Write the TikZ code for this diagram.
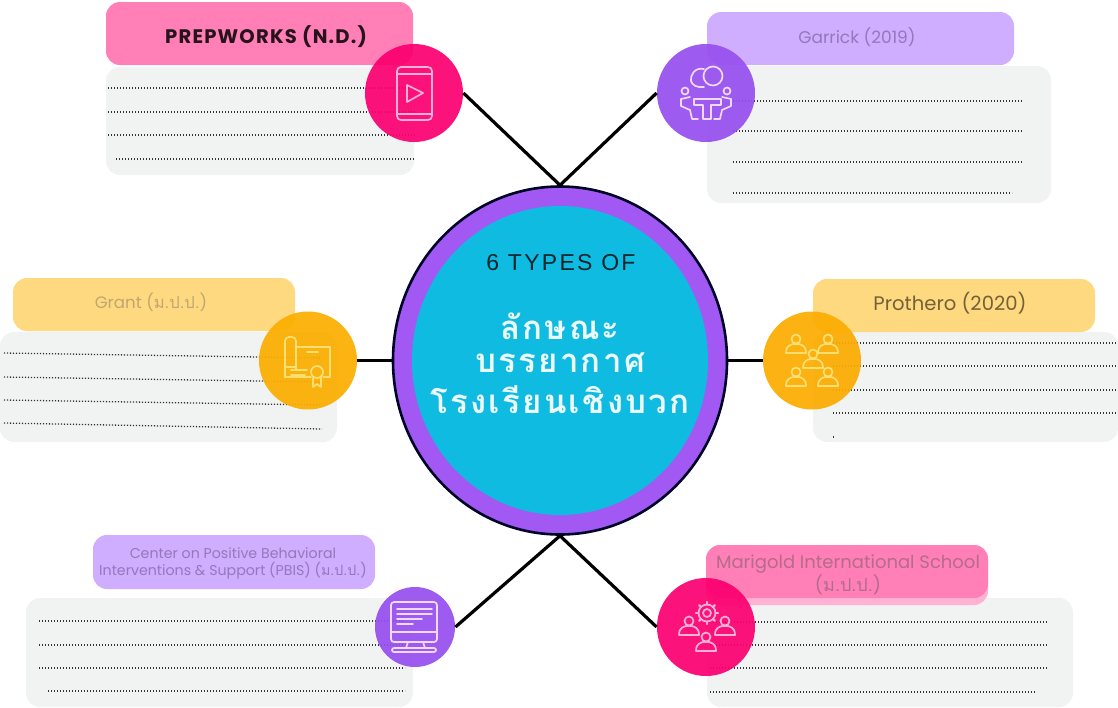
\documentclass[tikz,border=0pt]{standalone}
\usepackage{fontspec}
\usetikzlibrary{shapes.geometric}
\setmainfont{Poppins}
\newfontfamily\thaifont[Script=Thai]{Loma}
\newfontfamily\thaiwide[Script=Thai,LetterSpace=7]{Loma}
\newfontfamily\capswide[LetterSpace=10]{Liberation Sans}
\newfontfamily\capsbold[LetterSpace=6]{Poppins}
\definecolor{pinkhead}{HTML}{FF7FB6}
\definecolor{pinkicon}{HTML}{FB0070}
\definecolor{pinkline}{HTML}{FFB0D6}
\definecolor{lilachead}{HTML}{CFADFF}
\definecolor{lilacicon}{HTML}{9650EE}
\definecolor{lilacline}{HTML}{F0D8FF}
\definecolor{lilactext}{HTML}{9478BD}
\definecolor{sandhead}{HTML}{FFD97F}
\definecolor{sandicon}{HTML}{FBAE00}
\definecolor{sandline}{HTML}{FFDF70}
\definecolor{greybox}{HTML}{F1F2F2}
\definecolor{ringcol}{HTML}{A259F4}
\definecolor{corecol}{HTML}{0FBBE0}
\tikzset{
	panel/.style = {rectangle, rounded corners = 7pt, fill = greybox, inner sep = 0pt},
	headbox/.style = {rectangle, rounded corners = 7pt, inner sep = 0pt},
	iconball/.style = {circle, inner sep = 0pt, minimum size = 49pt, fill opacity = .93},
	dots/.style = {line width = .65pt, dash pattern = on .55pt off .95pt, color = black!80},
	spoke/.style = {line width = 1.6pt, color = black},
	glyph/.style = {line width = .85pt, line join = round, line cap = round},
	person/.pic = {
		\draw [glyph] (0,-6) circle (4.5);
		\draw [glyph] (-10,8) .. controls (-10,0) and (-5,0) .. (-3,-1) -- (3,-1) .. controls (5,0) and (10,0) .. (10,8) -- cycle;
	}
}
\begin{document}
\begin{tikzpicture}[x = .5pt, y = -.5pt]
	\useasboundingbox (0,0) rectangle (1118,707);
	
	% panels and their dotted lines
	\node (prepbox) at (260,121) [panel, minimum width = 154pt, minimum height = 54pt] {};
	\draw [dots] (108,88) -- (415,88);
	\draw [dots] (108,112) -- (415,112);
	\draw [dots] (108,135) -- (415,135);
	\draw [dots] (116,159) -- (415,159);
	
	\node (garbox) at (879,134.5) [panel, minimum width = 172pt, minimum height = 68.5pt] {};
	\draw [dots] (733,101) -- (1023,101);
	\draw [dots] (733,131) -- (1023,131);
	\draw [dots] (733,162) -- (1023,162);
	\draw [dots] (733,193) -- (1012,193);
	
	\node (grantbox) at (168.5,387) [panel, minimum width = 168.5pt, minimum height = 55pt] {};
	\draw [dots] (4,353) -- (322,358);
	\draw [dots] (4,377) -- (322,382);
	\draw [dots] (4,400) -- (322,405);
	\draw [dots] (4,423) -- (322,429);
	
	\node (probox) at (965.5,387) [panel, minimum width = 152.5pt, minimum height = 55pt] {};
	\draw [dots] (833,343) -- (1118,343);
	\draw [dots] (833,366) -- (1118,366);
	\draw [dots] (833,390) -- (1118,390);
	\draw [dots] (833,413) -- (1118,413);
	\draw [dots] (833,437) -- (835,437);
	
	\node (pbisbox) at (219.5,652.5) [panel, minimum width = 193.5pt, minimum height = 54.5pt] {};
	\draw [dots] (39,621) -- (405,621);
	\draw [dots] (39,645) -- (405,645);
	\draw [dots] (39,668) -- (405,668);
	\draw [dots] (48,691) -- (405,691);
	
	\node (marbox) at (890,652.5) [panel, minimum width = 183pt, minimum height = 54.5pt] {};
	\draw [dots] (710,622) -- (1048,622);
	\draw [dots] (710,645) -- (1048,645);
	\draw [dots] (710,668) -- (1048,668);
	\draw [dots] (710,692) -- (1036,692);
	
	% heads
	\node (prephead) at (259.5,33.5) [headbox, fill = pinkhead, minimum width = 153.5pt, minimum height = 31.5pt] {};
	\node (gartitle) at (860.5,38.5) [headbox, fill = lilachead, minimum width = 153.5pt, minimum height = 26.5pt] {};
	\node (granthead) at (154,304.5) [headbox, fill = sandhead, minimum width = 141pt, minimum height = 26.5pt] {};
	\node (prohead) at (954,305.5) [headbox, fill = sandhead, minimum width = 141pt, minimum height = 26.5pt] {};
	\node (pbishead) at (234,562) [headbox, fill = lilachead, minimum width = 141pt, minimum height = 27pt] {};
	\node (marstrip) at (847,575) [headbox, fill = pinkhead!60!white, minimum width = 141pt, minimum height = 30pt] {};
	\node (marhead) at (847,571.5) [headbox, fill = pinkhead, minimum width = 141pt, minimum height = 26.5pt] {};
	
	% head labels
	\node (preptext) at (266,36.5) [scale = .98, text = black!85!pinkhead] {\capsbold\bfseries PREPWORKS (N.D.)};
	\node (gartext) at (857,37) [scale = .85, text = lilactext] {Garrick (2019)};
	\node (granttext) at (151,302.5) [scale = .83, text = sandhead!70!black!85] {Grant ({\thaifont ม.ป.ป.})};
	\node (protext) at (950,303) [scale = .98, text = sandhead!45!black] {Prothero (2020)};
	\node (pbistext) at (233,563) [scale = .71, align = center, text = lilactext] {Center on Positive Behavioral\\Interventions \& Support (PBIS) ({\thaifont ม.ป.ป.})};
	\node (martext) at (848,575) [scale = .9, align = center, text = pinkhead!65!black!85] {Marigold International School\\({\thaifont ม.ป.ป.})};
	
	% middle
	\node (core) at (560,360.5) [ellipse, inner sep = 0pt, minimum width = 167pt, minimum height = 174pt, fill = ringcol, draw = black!85!blue, line width = 1.3pt] {};
	\node (corein) at (560,360.5) [ellipse, inner sep = 0pt, minimum width = 148pt, minimum height = 154.5pt, fill = corecol] {};
	\node (sixtypes) at (561,263) [text = black!80!corecol] {\capswide\fontsize{11.5}{14}\selectfont 6 TYPES OF};
	\node (lineone) at (560,326) [text = white!92!corecol] {\thaiwide\bfseries\fontsize{16.5}{20}\selectfont ลักษณะ};
	\node (linetwo) at (560,363) [text = white!92!corecol] {\thaiwide\bfseries\fontsize{16.5}{20}\selectfont บรรยากาศ};
	\node (linethree) at (560,400) [text = white!92!corecol] {\thaiwide\bfseries\fontsize{16.5}{20}\selectfont โรงเรียนเชิงบวก};
	
	% icon balls
	\node (prepicon) at (414,93) [iconball, fill = pinkicon] {};
	\node (garicon) at (706,93) [iconball, fill = lilacicon] {};
	\node (granticon) at (308,360.5) [iconball, fill = sandicon] {};
	\node (proicon) at (812,360.5) [iconball, fill = sandicon!95!orange] {};
	\node (pbisicon) at (415,627) [iconball, fill = lilacicon, minimum size = 40pt] {};
	\node (maricon) at (706,627) [iconball, fill = pinkicon] {};
	
	% spokes
	\draw [spoke] (core.north) -- (prepicon.east);
	\draw [spoke] (core.north) -- (garicon.west);
	\draw [spoke] (core.west) -- (granticon.east);
	\draw [spoke] (core.east) -- (proicon.west);
	\draw [spoke] (core.south) -- (pbisicon.east);
	\draw [spoke] (core.south) -- (maricon.west);
	
	% tablet
	\draw [glyph, pinkline, rounded corners = 2pt] (397,67) rectangle (432,120);
	\draw [glyph, pinkline] (397,74) -- (432,74);
	\draw [glyph, pinkline] (397,114) -- (432,114);
	\draw [glyph, pinkline] (407,85) -- (423,93) -- (407,102) -- cycle;
	
	% table with speakers
	\draw [glyph, lilacline] (713,76) circle (9.5);
	\draw [glyph, lilacline] (704,69) .. controls (694,67) and (690,76) .. (691,81) .. controls (692,85) and (697,88) .. (704,87);
	\draw [glyph, lilacline] (685,91) circle (3.5);
	\draw [glyph, lilacline] (727,91) circle (3.5);
	\draw [glyph, lilacline] (694,99) -- (721,99) -- (721,105) -- (711,105) -- (711,119) -- (703,119) -- (703,105) -- (694,105) -- cycle;
	\draw [glyph, lilacline] (681,99) -- (681,106) -- (690,110) -- (692,119) -- (698,119);
	\draw [glyph, lilacline] (681,99) -- (690,97);
	\draw [glyph, lilacline] (731,99) -- (731,106) -- (722,110) -- (720,119) -- (714,119);
	\draw [glyph, lilacline] (731,99) -- (722,97);
	
	% certificate
	\draw [glyph, sandline, rounded corners = 2pt] (285,377) -- (285,337) -- (296,337) -- (296,370);
	\draw [glyph, sandline] (296,347) -- (330,347) -- (330,377) -- (323,377);
	\draw [glyph, sandline] (285,377) -- (311,377);
	\draw [glyph, sandline] (285,367) -- (296,367);
	\draw [glyph, sandline] (307,352) -- (318,352);
	\draw [glyph, sandline] (291,370) -- (307,370);
	\draw [glyph, sandline] (291,375) -- (305,375);
	\draw [glyph, sandline] (317,372) circle (6);
	\draw [glyph, sandline] (313,378) -- (313,387) -- (317,384) -- (321,387) -- (321,378);
	
	% group of five
	\pic [sandline] at (796,345) {person};
	\pic [sandline] at (828,345) {person};
	\pic [sandline] at (813,360) {person};
	\pic [sandline] at (796,378) {person};
	\pic [sandline] at (828,378) {person};
	
	% screen
	\draw [glyph, lilacline, rounded corners = 1.5pt] (391,602) rectangle (437,642);
	\draw [glyph, lilacline] (391,632) -- (437,632);
	\draw [glyph, lilacline] (397,609) -- (432,609);
	\draw [glyph, lilacline] (397,614) -- (432,614);
	\draw [glyph, lilacline] (397,619) -- (422,619);
	\draw [glyph, lilacline] (397,624) -- (413,624);
	\draw [glyph, lilacline] (408,642) -- (406,648);
	\draw [glyph, lilacline] (423,642) -- (425,648);
	\draw [glyph, lilacline, rounded corners = 1pt] (392,648) rectangle (436,652);
	
	% gear with three people
	\draw [glyph, pinkline] (707,613) circle (4);
	\draw [glyph, pinkline] (707,613) circle (8.5);
	\foreach \ang in {0,45,...,315}
		\draw [glyph, pinkline, line width = 1.1pt] (707,613) ++(\ang:8.5) -- ++(\ang:2.5);
	\pic [pinkline] at (689,627) {person};
	\pic [pinkline] at (725,627) {person};
	\pic [pinkline] at (706,643) {person};
\end{tikzpicture}
\end{document}
